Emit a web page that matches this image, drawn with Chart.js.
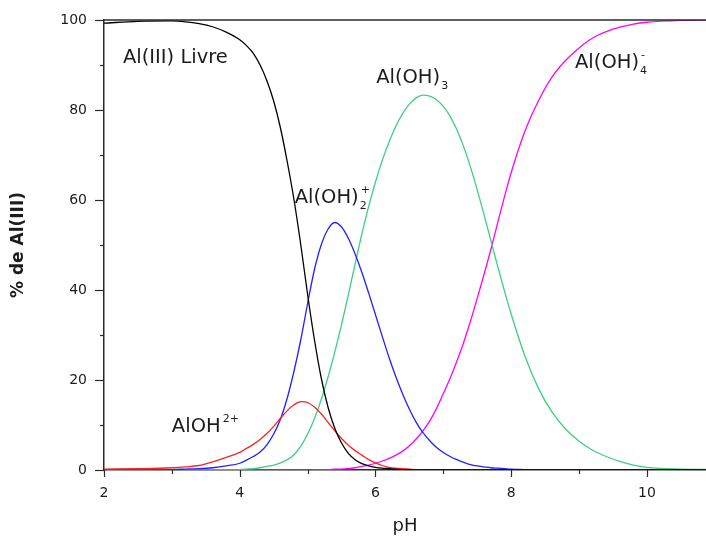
<!DOCTYPE html>
<html>
<head>
<meta charset="utf-8">
<script src="https://cdn.jsdelivr.net/npm/chart.js@4.4.1/dist/chart.umd.min.js"></script>
<style>
  html, body { margin: 0; padding: 0; background: #fff; }
  #box { width: 706px; height: 537px; }
</style>
</head>
<body>
<div id="box"><canvas id="speciation" width="706" height="537"></canvas></div>
<script>
// pH grid shared by every species curve
const pH = [2.0, 2.5, 3.0, 3.2, 3.4, 3.6, 3.8,
  4.0, 4.1, 4.2, 4.3, 4.4, 4.5, 4.6, 4.7, 4.8, 4.9,
  5.0, 5.1, 5.2, 5.3, 5.4, 5.5, 5.6, 5.7, 5.8, 5.9,
  6.0, 6.1, 6.2, 6.3, 6.4, 6.5, 6.6, 6.7, 6.8, 6.9,
  7.0, 7.1, 7.2, 7.3, 7.4, 7.5, 7.6, 7.7, 7.8, 7.9,
  8.0, 8.2, 8.4, 8.6, 8.8, 9.0, 9.2, 9.4, 9.6, 9.8, 10.0, 10.5, 11.0];

// % of Al(III) for each species
const alFree = [99.3, 99.7, 99.8, 99.6, 99.2, 98.5, 97.3,
  95.6, 94.3, 92.6, 90.0, 86.5, 82.0, 76.0, 68.5, 60.0, 50.0,
  39.0, 29.0, 20.5, 14.0, 9.3, 6.0, 3.7, 2.3, 1.4, 0.9,
  0.6, 0.4, 0.3, 0.2, 0.1, 0.1, 0, 0, 0, 0,
  0, 0, 0, 0, 0, 0, 0, 0, 0, 0,
  0, 0, 0, 0, 0, 0, 0, 0, 0, 0, 0, 0, 0];
const alOH = [0.2, 0.3, 0.5, 0.7, 1.0, 1.8, 2.8,
  3.9, 4.8, 5.7, 6.8, 8.1, 9.7, 11.5, 13.2, 14.5, 15.2,
  15.0, 14.0, 12.5, 10.6, 8.7, 7.0, 5.5, 4.3, 3.3, 2.3,
  1.6, 1.0, 0.6, 0.4, 0.3, 0.2, 0.1, 0.1, 0, 0,
  0, 0, 0, 0, 0, 0, 0, 0, 0, 0,
  0, 0, 0, 0, 0, 0, 0, 0, 0, 0, 0, 0, 0];
const alOH2 = [0, 0, 0.1, 0.2, 0.3, 0.5, 0.9,
  1.5, 2.2, 3.0, 4.0, 5.6, 8.0, 11.3, 16.0, 22.0, 29.0,
  37.0, 44.5, 50.0, 53.5, 55.0, 54.0, 51.5, 48.0, 43.9, 39.3,
  34.5, 29.7, 25.0, 20.7, 16.9, 13.5, 10.6, 8.3, 6.5, 5.0,
  3.9, 3.0, 2.3, 1.7, 1.2, 0.9, 0.7, 0.5, 0.4, 0.3,
  0.2, 0.1, 0, 0, 0, 0, 0, 0, 0, 0, 0, 0, 0];
const alOH3 = [0, 0, 0, 0, 0, 0, 0,
  0.1, 0.2, 0.3, 0.5, 0.8, 1.1, 1.6, 2.3, 3.4, 5.3,
  8.0, 11.4, 15.6, 20.6, 26.2, 32.3, 38.9, 45.8, 52.5, 58.6,
  64.0, 68.8, 72.9, 76.4, 79.2, 81.3, 82.7, 83.3, 83.1, 82.3,
  80.8, 78.6, 75.6, 71.8, 67.3, 62.2, 56.7, 51.0, 45.3, 39.8,
  34.6, 25.4, 18.2, 12.9, 9.1, 6.4, 4.4, 3.0, 1.9, 1.1, 0.6, 0.2, 0.1];
const alOH4 = [0, 0, 0, 0, 0, 0, 0,
  0, 0, 0, 0, 0, 0, 0, 0, 0, 0,
  0, 0.1, 0.1, 0.1, 0.2, 0.2, 0.3, 0.5, 0.8, 1.1,
  1.5, 2.0, 2.6, 3.3, 4.2, 5.4, 6.9, 8.7, 10.9, 13.7,
  17.0, 20.4, 24.2, 28.4, 33.1, 38.2, 43.5, 49.0, 54.9, 60.7,
  66.1, 75.2, 82.0, 87.3, 91.0, 93.8, 96.0, 97.4, 98.4, 99.1, 99.5, 99.9, 100];

const xTicks = [2, 4, 6, 8, 10];
const yTicks = [0, 20, 40, 60, 80, 100];

const FONT = '"DejaVu Sans", Verdana, sans-serif';
const TEXT = '#1c1c1c';

// curve labels, anchored in data units (left edge, baseline)
const speciesText = [
  {pH: 2.28, pct: 90.4, main: 'Al(III) Livre'},
  {pH: 6.01, pct: 86.0, main: 'Al(OH)', sub: '3'},
  {pH: 4.81, pct: 59.3, main: 'Al(OH)', sub: '2', sup: '+'},
  {pH: 3.00, pct: 8.4, main: 'AlOH', sup: '2+'},
  {pH: 8.94, pct: 89.3, main: 'Al(OH)', sub: '4', sup: '-'}
];

const toPoints = (vals) => vals.map((v, i) => ({x: pH[i], y: v}));
const curve = (vals, color) => ({
  data: toPoints(vals),
  showLine: true,
  borderColor: color,
  borderWidth: 1.3,
  pointRadius: 0,
  cubicInterpolationMode: 'monotone',
  fill: false
});

const decor = {
  id: 'decor',
  afterDraw(chart) {
    const ctx = chart.ctx;
    const xs = chart.scales.x, ys = chart.scales.y;
    const a = chart.chartArea;
    ctx.save();
    ctx.strokeStyle = '#2a2a2a';
    ctx.lineWidth = 1.5;
    // top frame line
    ctx.beginPath();
    ctx.moveTo(a.left, a.top);
    ctx.lineTo(a.right, a.top);
    ctx.stroke();
    ctx.lineWidth = 1.2;
    // x ticks, major + minor
    for (let v = 2; v <= 10; v++) {
      const px = Math.round(xs.getPixelForValue(v)) + 0.5;
      const len = xTicks.includes(v) ? 7 : 4;
      ctx.beginPath();
      ctx.moveTo(px, a.bottom);
      ctx.lineTo(px, a.bottom + len);
      ctx.stroke();
    }
    for (let v = 0; v <= 100; v += 10) {
      const py = Math.round(ys.getPixelForValue(v)) + 0.5;
      const len = yTicks.includes(v) ? 9 : 4;
      ctx.beginPath();
      ctx.moveTo(a.left, py);
      ctx.lineTo(a.left - len, py);
      ctx.stroke();
    }
    // species labels
    ctx.fillStyle = TEXT;
    ctx.textBaseline = 'alphabetic';
    ctx.textAlign = 'left';
    speciesText.forEach(t => {
      const x = xs.getPixelForValue(t.pH);
      const y = ys.getPixelForValue(t.pct);
      ctx.font = '19.5px ' + FONT;
      ctx.fillText(t.main, x, y);
      const w = ctx.measureText(t.main).width;
      ctx.font = '11px ' + FONT;
      if (t.sup) ctx.fillText(t.sup, x + w + 2, y - 10);
      if (t.sub) ctx.fillText(t.sub, x + w + 1, y + 6);
    });
    ctx.restore();
  }
};

new Chart(document.getElementById('speciation'), {
  type: 'scatter',
  data: {
    datasets: [
      curve(alFree, '#000000'),
      curve(alOH, '#ff2020'),
      curve(alOH2, '#2020ff'),
      curve(alOH3, '#3ecf7e'),
      curve(alOH4, '#ff00ff')
    ]
  },
  options: {
    responsive: false,
    animation: false,
    devicePixelRatio: 1,
    layout: {padding: {top: 20, right: 0, bottom: 0, left: 0}},
    plugins: {legend: {display: false}, tooltip: {enabled: false}},
    scales: {
      x: {
        type: 'linear',
        min: 2,
        max: 10.87,
        afterBuildTicks: (s) => { s.ticks = xTicks.map(v => ({value: v})); },
        afterFit: (s) => { s.height = 67; s.paddingLeft = 0; s.paddingRight = 0; },
        grid: {display: false, drawTicks: false},
        border: {display: true, color: '#2a2a2a', width: 1.5},
        ticks: {color: TEXT, font: {family: FONT, size: 14}, padding: 15, maxRotation: 0},
        title: {display: true, text: 'pH', color: TEXT, font: {family: FONT, size: 18}, padding: {top: 0, bottom: 0}}
      },
      y: {
        min: 0,
        max: 100,
        afterBuildTicks: (s) => { s.ticks = yTicks.map(v => ({value: v})); },
        afterFit: (s) => { s.width = 104; s.paddingTop = 0; s.paddingBottom = 0; },
        grid: {display: false, drawTicks: false},
        border: {display: true, color: '#2a2a2a', width: 1.5},
        ticks: {color: TEXT, font: {family: FONT, size: 14}, padding: 17},
        title: {display: true, text: '% de Al(III)', color: TEXT, font: {family: FONT, size: 17, weight: 'bold'}, padding: {top: 8, bottom: 0}}
      }
    }
  },
  plugins: [decor]
});
</script>
</body>
</html>
